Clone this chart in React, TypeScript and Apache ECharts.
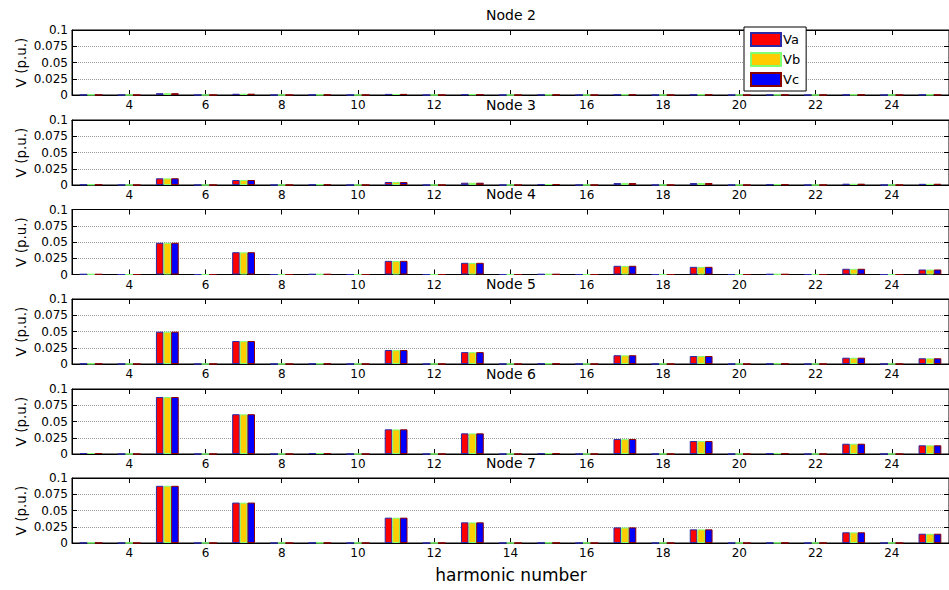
import React, { useEffect, useRef } from "react";
import * as echarts from "echarts";

const harmonics = ["3","4","5","6","7","8","9","10","11","12","13","14","15","16","17","18","19","20","21","22","23","24","25"];
const yTicks = [0, 0.025, 0.05, 0.075, 0.1];
const nodeNames = ["Node 2", "Node 3", "Node 4", "Node 5", "Node 6", "Node 7"];
const phaseNames = ["Va", "Vb", "Vc"];
const phaseColors = ["#ff0000", "#ffcc00", "#0000ff"];
const phaseEdges = ["#2a2aa8", "#80ff70", "#8a0000"];

// harmonic order:   3      4   5       6   7       8   9       10  11      12  13      14  15      16  17      18  19      20  21      22  23      24  25
const node2Va = [0.0004, 0, 0.0028, 0, 0.0019, 0, 0.0004, 0, 0.0017, 0, 0.0009, 0, 0.0004, 0, 0.0006, 0, 0.0005, 0, 0.0003, 0, 0.0004, 0, 0.0004];
const node2Vb = [0.0004, 0, 0.0027, 0, 0.0019, 0, 0.0004, 0, 0.0016, 0, 0.0009, 0, 0.0004, 0, 0.0006, 0, 0.0005, 0, 0.0003, 0, 0.0004, 0, 0.0004];
const node2Vc = [0.0004, 0, 0.0028, 0, 0.0020, 0, 0.0004, 0, 0.0017, 0, 0.0009, 0, 0.0004, 0, 0.0006, 0, 0.0005, 0, 0.0003, 0, 0.0004, 0, 0.0004];

const node3Va = [0.0008, 0, 0.0103, 0, 0.0077, 0, 0.0008, 0, 0.0046, 0, 0.0035, 0, 0.0013, 0, 0.0030, 0, 0.0030, 0, 0.0010, 0, 0.0020, 0, 0.0018];
const node3Vb = [0.0008, 0, 0.0102, 0, 0.0076, 0, 0.0008, 0, 0.0045, 0, 0.0034, 0, 0.0013, 0, 0.0029, 0, 0.0030, 0, 0.0010, 0, 0.0019, 0, 0.0018];
const node3Vc = [0.0008, 0, 0.0104, 0, 0.0077, 0, 0.0008, 0, 0.0046, 0, 0.0035, 0, 0.0013, 0, 0.0030, 0, 0.0031, 0, 0.0010, 0, 0.0020, 0, 0.0019];

const node4Va = [0.0005, 0, 0.0488, 0, 0.0343, 0, 0.0005, 0, 0.0210, 0, 0.0180, 0, 0.0005, 0, 0.0134, 0, 0.0118, 0, 0.0005, 0, 0.0088, 0, 0.0077];
const node4Vb = [0.0005, 0, 0.0487, 0, 0.0341, 0, 0.0005, 0, 0.0208, 0, 0.0178, 0, 0.0005, 0, 0.0132, 0, 0.0117, 0, 0.0005, 0, 0.0087, 0, 0.0076];
const node4Vc = [0.0005, 0, 0.0488, 0, 0.0343, 0, 0.0005, 0, 0.0210, 0, 0.0180, 0, 0.0005, 0, 0.0134, 0, 0.0118, 0, 0.0005, 0, 0.0088, 0, 0.0077];

const node5Va = [0.0005, 0, 0.0497, 0, 0.0354, 0, 0.0005, 0, 0.0215, 0, 0.0183, 0, 0.0005, 0, 0.0135, 0, 0.0123, 0, 0.0005, 0, 0.0097, 0, 0.0088];
const node5Vb = [0.0005, 0, 0.0496, 0, 0.0352, 0, 0.0005, 0, 0.0213, 0, 0.0181, 0, 0.0005, 0, 0.0134, 0, 0.0122, 0, 0.0005, 0, 0.0096, 0, 0.0087];
const node5Vc = [0.0005, 0, 0.0497, 0, 0.0354, 0, 0.0005, 0, 0.0215, 0, 0.0183, 0, 0.0005, 0, 0.0135, 0, 0.0123, 0, 0.0005, 0, 0.0097, 0, 0.0088];

const node6Va = [0.0015, 0, 0.0877, 0, 0.0612, 0, 0.0012, 0, 0.0380, 0, 0.0318, 0, 0.0010, 0, 0.0230, 0, 0.0200, 0, 0.0010, 0, 0.0158, 0, 0.0134];
const node6Vb = [0.0015, 0, 0.0876, 0, 0.0610, 0, 0.0012, 0, 0.0378, 0, 0.0316, 0, 0.0010, 0, 0.0228, 0, 0.0198, 0, 0.0010, 0, 0.0157, 0, 0.0133];
const node6Vc = [0.0015, 0, 0.0877, 0, 0.0612, 0, 0.0012, 0, 0.0380, 0, 0.0318, 0, 0.0010, 0, 0.0230, 0, 0.0200, 0, 0.0010, 0, 0.0158, 0, 0.0134];

const node7Va = [0.0003, 0, 0.0880, 0, 0.0622, 0, 0.0003, 0, 0.0390, 0, 0.0318, 0, 0.0003, 0, 0.0240, 0, 0.0210, 0, 0.0003, 0, 0.0165, 0, 0.0143];
const node7Vb = [0.0003, 0, 0.0880, 0, 0.0620, 0, 0.0003, 0, 0.0388, 0, 0.0316, 0, 0.0003, 0, 0.0238, 0, 0.0209, 0, 0.0003, 0, 0.0163, 0, 0.0141];
const node7Vc = [0.0003, 0, 0.0880, 0, 0.0622, 0, 0.0003, 0, 0.0390, 0, 0.0318, 0, 0.0003, 0, 0.0240, 0, 0.0210, 0, 0.0003, 0, 0.0165, 0, 0.0143];

const nodeData = [
  [node2Va, node2Vb, node2Vc],
  [node3Va, node3Vb, node3Vc],
  [node4Va, node4Vb, node4Vc],
  [node5Va, node5Vb, node5Vc],
  [node6Va, node6Vb, node6Vc],
  [node7Va, node7Vb, node7Vc],
];

const FONT = "DejaVu Sans";
const GRID_LEFT = 72;
const GRID_WIDTH = 878;
const GRID_TOPS = [30, 120, 209.5, 299, 389, 478];
const GRID_HEIGHT = 65;

export default function App() {
  const ref = useRef<HTMLDivElement>(null);
  useEffect(() => {
    if (!ref.current) return;
    const chart = echarts.init(ref.current, undefined, { renderer: "svg" });
    const tickFn = (idx: number) => idx % 2 === 1;
    const grids: any[] = [];
    const xAxes: any[] = [];
    const yAxes: any[] = [];
    const series: any[] = [];
    const graphics: any[] = [];
    const lastIdx = GRID_TOPS.length - 1;
    GRID_TOPS.forEach((top, i) => {
      grids.push({
        left: GRID_LEFT,
        width: GRID_WIDTH,
        top,
        height: GRID_HEIGHT,
        show: true,
        borderColor: "#000",
        borderWidth: 1,
        backgroundColor: "#fff",
      });
      const axisLine = { show: true, onZero: false, lineStyle: { color: "#000", width: 1 } };
      // the "14" label is covered by the next panel's title except on the last panel
      const labelFn = (idx: number, val: string) =>
        idx % 2 === 1 && (i === lastIdx || val !== "14");
      xAxes.push({
        type: "category",
        gridIndex: i,
        data: harmonics,
        position: "bottom",
        axisLine,
        axisTick: { show: true, inside: true, length: 5, alignWithLabel: true, interval: tickFn, lineStyle: { color: "#000" } },
        axisLabel: { interval: labelFn, margin: 4, color: "#000", fontSize: 12, fontFamily: FONT },
        splitLine: { show: false },
      });
      xAxes.push({
        type: "category",
        gridIndex: i,
        data: harmonics,
        position: "top",
        axisLine,
        axisTick: { show: true, inside: true, length: 5, alignWithLabel: true, interval: tickFn, lineStyle: { color: "#000" } },
        axisLabel: { show: false },
        splitLine: { show: false },
      });
      yAxes.push({
        type: "value",
        gridIndex: i,
        position: "left",
        min: yTicks[0],
        max: yTicks[yTicks.length - 1],
        interval: yTicks[1] - yTicks[0],
        axisLine,
        axisTick: { show: true, inside: true, length: 5, lineStyle: { color: "#000" } },
        axisLabel: { margin: 4, color: "#000", fontSize: 12, fontFamily: FONT },
        splitLine: { show: true, lineStyle: { color: "#9a9a9a", type: "dotted", width: 1 } },
        name: "V (p.u.)",
        nameLocation: "middle",
        nameGap: 44,
        nameMoveOverlap: false,
        nameTextStyle: { color: "#000", fontSize: 13.5, fontFamily: FONT },
      });
      yAxes.push({
        type: "value",
        gridIndex: i,
        position: "right",
        min: yTicks[0],
        max: yTicks[yTicks.length - 1],
        interval: yTicks[1] - yTicks[0],
        axisLine,
        axisTick: { show: true, inside: true, length: 5, lineStyle: { color: "#000" } },
        axisLabel: { show: false },
        splitLine: { show: false },
      });
      nodeData[i].forEach((vals, p) => {
        series.push({
          type: "bar",
          name: phaseNames[p],
          xAxisIndex: 2 * i,
          yAxisIndex: 2 * i,
          data: vals,
          barWidth: 7.6,
          barGap: "0%",
          itemStyle: { color: phaseColors[p], borderColor: phaseEdges[p], borderWidth: 1 },
        });
      });
      graphics.push({
        type: "text",
        x: GRID_LEFT + GRID_WIDTH / 2,
        y: top - 15.5,
        z: 50,
        style: { text: nodeNames[i], fontSize: 14, fontFamily: FONT, fill: "#000", align: "center", verticalAlign: "middle" },
      });
    });
    graphics.push({
      type: "text",
      x: GRID_LEFT + GRID_WIDTH / 2,
      y: 575,
      style: { text: "harmonic number", fontSize: 17, fontFamily: FONT, fill: "#000", align: "center", verticalAlign: "middle" },
    });
    chart.setOption({
      animation: false,
      backgroundColor: "#fff",
      grid: grids,
      xAxis: xAxes,
      yAxis: yAxes,
      series,
      graphic: graphics,
      legend: {
        data: phaseNames,
        orient: "vertical",
        left: 744,
        top: 27,
        itemWidth: 30,
        itemHeight: 13,
        itemGap: 5,
        icon: "rect",
        padding: [5, 6, 4, 6],
        borderColor: "#000",
        borderWidth: 1,
        backgroundColor: "#fff",
        textStyle: { fontSize: 13, fontFamily: FONT, color: "#000", padding: [0, 0, 0, -3] },
        z: 20,
      },
    });
    return () => chart.dispose();
  }, []);
  return <div ref={ref} style={{ position: "fixed", left: 0, top: 0, width: 949, height: 590 }} />;
}
